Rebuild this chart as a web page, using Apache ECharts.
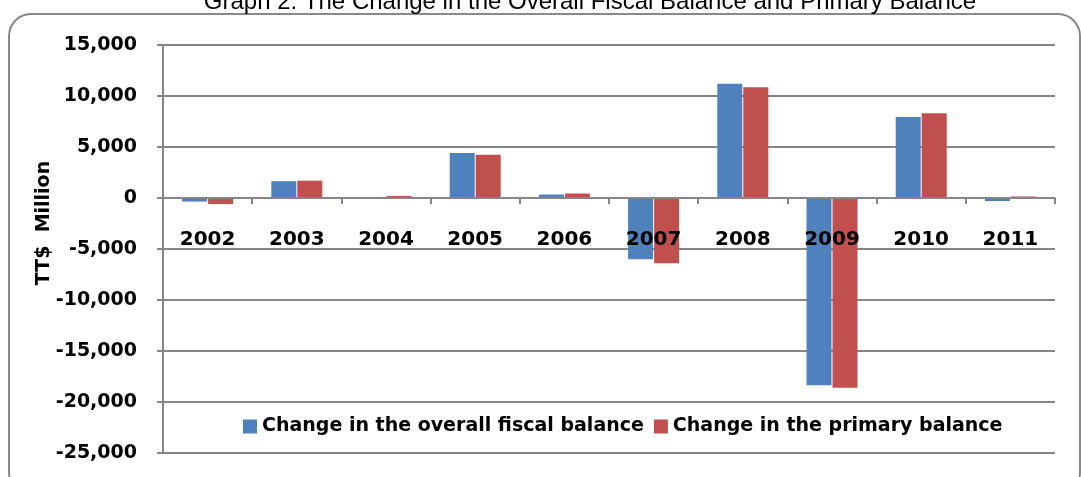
<!DOCTYPE html>
<html>
<head>
<meta charset="utf-8">
<script src="https://cdn.jsdelivr.net/npm/echarts@6/dist/echarts.min.js"></script>
<style>
  html, body { margin: 0; padding: 0; background: #fff; }
  #chart { width: 1081px; height: 477px; }
</style>
</head>
<body>
<div id="chart"></div>
<script>
// Annual change in fiscal balances, TT$ million
const years = ['2002', '2003', '2004', '2005', '2006', '2007', '2008', '2009', '2010', '2011'];
const overallChange = [-350, 1650, 50, 4400, 340, -6000, 11200, -18350, 7950, -300];
const primaryChange = [-600, 1700, 200, 4250, 440, -6400, 10850, -18600, 8300, 150];
const yTicks = { min: -25000, max: 15000, interval: 5000 };

const gridTop = 45, gridBottom = 24, height = 477;
const plotH = height - gridTop - gridBottom;
// shift the category axis up to the zero line
const zeroOffset = -plotH * (0 - yTicks.min) / (yTicks.max - yTicks.min);

const chart = echarts.init(document.getElementById('chart'));
const bold = 'DejaVu Sans';

chart.setOption({
  animation: false,
  title: {
    text: 'Graph 2: The Change in the Overall Fiscal Balance and Primary Balance',
    left: 590, top: -10, padding: 0, textAlign: 'center',
    textStyle: { fontFamily: 'Liberation Sans', fontWeight: 'normal', fontSize: 24, color: '#000' }
  },
  graphic: [
    {
      type: 'rect', silent: true, z: -1,
      shape: { x: 9, y: 14, width: 1071, height: 480, r: 22 },
      style: { fill: 'none', stroke: '#898989', lineWidth: 2 }
    },
    {
      type: 'text', silent: true, x: 44, y: 223, rotation: Math.PI / 2,
      style: {
        text: 'TT$  Million', align: 'center', verticalAlign: 'middle',
        font: 'bold 19px "DejaVu Sans"', fill: '#000'
      }
    }
  ],
  legend: {
    left: 238, top: 412, itemWidth: 14, itemHeight: 14, itemGap: 10,
    icon: 'rect',
    textStyle: { fontFamily: bold, fontWeight: 'bold', fontSize: 19, color: '#000' },
    data: ['Change in the overall fiscal balance', 'Change in the primary balance']
  },
  grid: { left: 163, right: 26, top: gridTop, bottom: gridBottom },
  xAxis: {
    type: 'category', data: years, offset: zeroOffset, z: 10,
    axisLine: { onZero: false, lineStyle: { color: '#868686', width: 2 } },
    axisTick: { show: true, length: 6, lineStyle: { color: '#868686', width: 2 } },
    axisLabel: { margin: 32, fontFamily: bold, fontWeight: 'bold', fontSize: 20, color: '#000' }
  },
  yAxis: {
    type: 'value', min: yTicks.min, max: yTicks.max, interval: yTicks.interval,
    axisLine: { show: true, lineStyle: { color: '#868686', width: 2 } },
    axisTick: { show: true, length: 6, lineStyle: { color: '#868686', width: 2 } },
    splitLine: { lineStyle: { color: '#868686', width: 2 } },
    axisLabel: {
      margin: 26, fontFamily: bold, fontWeight: 'bold', fontSize: 19, color: '#000',
      formatter: v => v.toLocaleString('en-US')
    }
  },
  series: [
    {
      name: 'Change in the overall fiscal balance', type: 'bar', data: overallChange,
      barWidth: 25, barGap: '4%',
      itemStyle: { color: '#4F81BD' }
    },
    {
      name: 'Change in the primary balance', type: 'bar', data: primaryChange,
      barWidth: 25,
      itemStyle: { color: '#C0504D' }
    }
  ]
});
</script>
</body>
</html>
